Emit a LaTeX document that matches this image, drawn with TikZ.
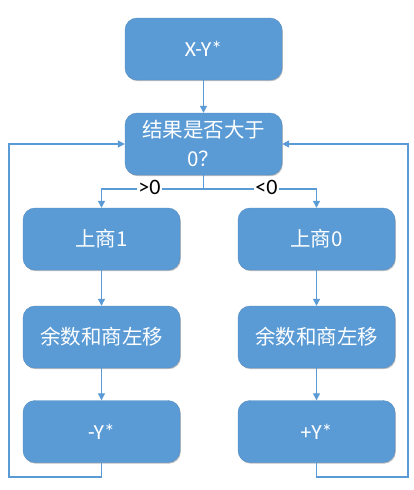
\documentclass[tikz,border=0pt]{standalone}
\usepackage{fontspec}
\setmainfont{Carlito}
\newfontfamily\cjk{Noto Sans CJK SC}
\usetikzlibrary{arrows.meta,shadows}
\definecolor{bx}{HTML}{5B9BD5}
\begin{document}
\begin{tikzpicture}[x=1pt,y=-1pt,
  box/.style={fill=bx, draw=bx!90!black, line width=0.4pt, rounded corners=12pt,
    minimum width=157pt, minimum height=62pt, inner sep=2pt, text=white, align=center,
    font=\cjk\fontsize{20.5}{29}\selectfont,
    drop shadow={shadow xshift=0.8pt, shadow yshift=-1.2pt, opacity=0.25, fill=black}},
  lat/.style={font=\fontsize{21.5}{24}\selectfont},
  arr/.style={draw=bx, line width=1.2pt, -{Triangle[length=7pt,width=7pt]}},
  lbl/.style={fill=white, inner sep=1.2pt, text=black, font=\fontsize{22}{24}\selectfont}]
\useasboundingbox (0,0) rectangle (414,490);
\fill[white] (0,0) rectangle (414,490);
\node[box, lat] (a) at (203.5,49) {X-Y*};
\node[box] (d) at (203.5,144) {结果是否大于\\0？};
\node[box] (l1) at (101.5,239) {上商1};
\node[box] (l2) at (101.5,337) {余数和商左移};
\node[box, lat] (l3) at (101.5,431.5) {-Y*};
\node[box] (r1) at (316.5,239) {上商0};
\node[box] (r2) at (316.5,337) {余数和商左移};
\node[box, lat] (r3) at (316.5,431.5) {+Y*};
\coordinate (br) at (203.5,189);
\coordinate (fl) at (9,477);
\coordinate (fr) at (408,477);
\draw[arr] (a) -- (d);
\draw[arr] (d.south) -- (br) -| (l1.north);
\draw[arr] (br) -| (r1.north);
\draw[arr] (l1) -- (l2);
\draw[arr] (l2) -- (l3);
\draw[arr] (r1) -- (r2);
\draw[arr] (r2) -- (r3);
\draw[arr] (l3.south) |- (fl) |- (d.west);
\draw[arr] (r3.south) |- (fr) |- (d.east);
\node[lbl] (g) at (149.5,187) {>0};
\node[lbl] (s) at (266.5,187) {<0};
\end{tikzpicture}
\end{document}
